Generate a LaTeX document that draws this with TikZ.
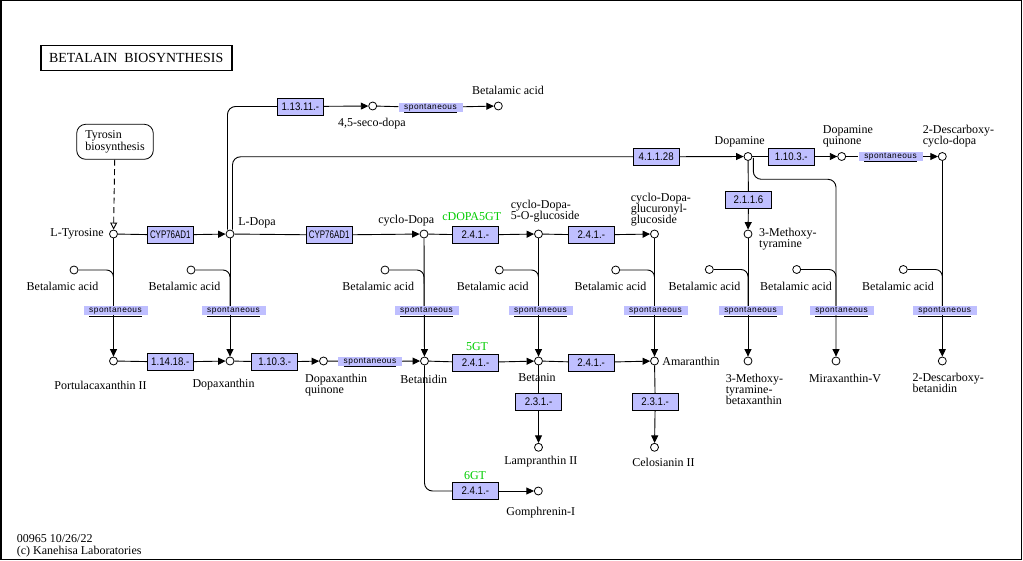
\documentclass[tikz,border=0pt]{standalone}
\usepackage{fontspec}
\setmainfont{Liberation Serif}
\newfontfamily\enzfont[FakeStretch=0.88]{Liberation Sans}
\newfontfamily\spfont[LetterSpace=6]{Liberation Sans}
\usetikzlibrary{arrows.meta,calc}
\pgfdeclarelayer{bg}
\pgfsetlayers{bg,main}
\definecolor{enzc}{RGB}{191,191,255}
\definecolor{grn}{RGB}{0,204,0}
\tikzset{
  cpd/.style={circle,draw,fill=white,inner sep=0pt,minimum size=8pt,line width=0.8pt},
  enz/.style={rectangle,draw,fill=enzc,minimum width=46pt,minimum height=17pt,inner sep=0pt,line width=0.8pt,font=\enzfont\fontsize{11}{11}\selectfont},
  spon/.style={rectangle,fill=enzc,minimum width=64pt,minimum height=9pt,inner sep=0pt,text height=5.9pt,text depth=1.9pt,font=\spfont\fontsize{8.3}{8.3}\selectfont},
  lbl/.style={inner sep=0pt,font=\fontsize{12}{11}\selectfont},
  glbl/.style={lbl,text=grn},
  ln/.style={line width=0.9pt},
  arr/.style={ln,-{Triangle[length=7.5pt,width=7pt]}},
}
\newcommand{\sptext}{\underline{spontaneous}}
\begin{document}
\begin{tikzpicture}[x=1pt,y=-1pt]
\useasboundingbox (0,0) rectangle (1023,561);
\draw[line width=1.5pt] (0.75,0.75) rectangle (1021.5,559.25);

% title
\node[draw,line width=1.6pt,minimum width=191pt,minimum height=25pt,inner sep=0pt,font=\fontsize{13.9}{14}\selectfont] (title) at (136.2,58.2) {BETALAIN\ \ BIOSYNTHESIS};

% map node
\node[draw,rounded corners=9pt,minimum width=76.6pt,minimum height=35pt,inner sep=0pt,align=left,line width=0.8pt,font=\fontsize{12}{10.7}\selectfont] (tyrmap) at (115,141.8) {Tyrosin\\biosynthesis};

% compounds
\node[cpd] (tyr) at (113.5,234) {};
\node[cpd] (dopa) at (230,234) {};
\node[cpd] (cdopa) at (424,234) {};
\node[cpd] (cdg) at (538.5,234) {};
\node[cpd] (cdgg) at (654.5,234) {};
\node[cpd] (dopm) at (748,156.5) {};
\node[cpd] (dopq) at (841.7,156.5) {};
\node[cpd] (desc) at (942.3,156.5) {};
\node[cpd] (seco) at (372.7,106) {};
\node[cpd] (bet0) at (498.3,106) {};
\node[cpd] (mtyr) at (748,234) {};
\node[cpd] (b1) at (74,270) {};
\node[cpd] (b2) at (191,270) {};
\node[cpd] (b3) at (385,270) {};
\node[cpd] (b4) at (499.3,270) {};
\node[cpd] (b5) at (615.7,270) {};
\node[cpd] (b6) at (709.3,269.5) {};
\node[cpd] (b7) at (796.7,269.5) {};
\node[cpd] (b8) at (903.3,269.5) {};
\node[cpd] (port) at (113.5,361) {};
\node[cpd] (dpx) at (230,361) {};
\node[cpd] (dpxq) at (323.5,361) {};
\node[cpd] (btd) at (424.5,361) {};
\node[cpd] (btn) at (538.5,361) {};
\node[cpd] (ama) at (654.5,361) {};
\node[cpd] (mtb) at (748,361) {};
\node[cpd] (mira) at (836,361) {};
\node[cpd] (dbtd) at (942.3,361) {};
\node[cpd] (lamp) at (538.5,447.3) {};
\node[cpd] (celo) at (654.5,447.3) {};
\node[cpd] (gomp) at (538.3,491) {};

% enzymes
\node[enz] (e11311) at (300.3,106.5) {1.13.11.-};
\node[enz] (e41128) at (656.2,156.8) {4.1.1.28};
\node[enz] (e1103a) at (791.3,156.5) {1.10.3.-};
\node[enz] (e2116) at (748.5,199.7) {2.1.1.6};
\node[enz] (cyp1) at (170.3,235) {\scalebox{0.82}[1]{CYP76AD1}};
\node[enz] (cyp2) at (329.2,235) {\scalebox{0.82}[1]{CYP76AD1}};
\node[enz] (e241a) at (475.3,235) {2.4.1.-};
\node[enz] (e241b) at (591.3,235) {2.4.1.-};
\node[enz] (e11418) at (170.3,362) {1.14.18.-};
\node[enz] (e1103b) at (274.7,362) {1.10.3.-};
\node[enz] (e241c) at (475.5,362.5) {2.4.1.-};
\node[enz] (e241d) at (591.2,362.5) {2.4.1.-};
\node[enz] (e231a) at (538.5,401.7) {2.3.1.-};
\node[enz] (e231b) at (655.2,401.7) {2.3.1.-};
\node[enz] (e241e) at (475.3,491) {2.4.1.-};

% spontaneous
\node[spon] (s0) at (430.5,107.5) {\sptext};
\node[spon] (s1) at (890.5,156.5) {\sptext};
\node[spon] (s2) at (370,361.5) {\sptext};
\node[spon] (sv1) at (115.5,311) {\sptext};
\node[spon] (sv2) at (233.5,311) {\sptext};
\node[spon] (sv3) at (426.5,311) {\sptext};
\node[spon] (sv4) at (540.5,311) {\sptext};
\node[spon] (sv5) at (655.5,311) {\sptext};
\node[spon] (sv6) at (750.5,311) {\sptext};
\node[spon] (sv7) at (841.5,311) {\sptext};
\node[spon] (sv8) at (944.7,311) {\sptext};

% connectors
\begin{pgfonlayer}{bg}
\draw[ln,dashed,dash pattern=on 6pt off 3.5pt,-{Triangle[open,length=7pt,width=7pt]}] (tyrmap) -- (tyr);
\draw[ln] (tyr) -- (cyp1); \draw[arr] (cyp1) -- (dopa);
\draw[ln] (dopa) -- (cyp2); \draw[arr] (cyp2) -- (cdopa);
\draw[ln] (cdopa) -- (e241a); \draw[arr] (e241a) -- (cdg);
\draw[ln] (cdg) -- (e241b); \draw[arr] (e241b) -- (cdgg);
\draw[ln,rounded corners=8pt] ([xshift=-2.5pt]dopa.north) |- (e11311.west);
\draw[arr] (e11311) -- (seco);
\draw[ln] (seco) -- (s0); \draw[arr] (s0) -- (bet0);
\draw[ln,rounded corners=8pt] ([xshift=2.5pt]dopa.north) |- (e41128.west);
\draw[arr] (e41128) -- (dopm);
\draw[ln] (dopm) -- (e1103a); \draw[arr] (e1103a) -- (dopq);
\draw[ln] (dopq) -- (s1); \draw[arr] (s1) -- (desc);
\draw[ln] (dopm) -- (e2116); \draw[arr] (e2116) -- (mtyr);
\coordinate (mjoin) at (836,179.3);
\draw[arr,rounded corners=8pt] ([xshift=5.3pt,yshift=3pt]dopm.south) |- (mjoin) -- (mira);
\draw[arr] (tyr) -- (port);
\draw[arr] (dopa) -- (dpx);
\draw[arr] (cdopa) -- (btd);
\draw[arr] (cdg) -- (btn);
\draw[arr] (cdgg) -- (ama);
\draw[arr] (mtyr) -- (mtb);
\draw[arr] (desc) -- (dbtd);
\draw[ln,rounded corners=7pt] (b1.east) -| (tyr |- sv1.north);
\draw[ln,rounded corners=7pt] (b2.east) -| (dopa |- sv2.north);
\draw[ln,rounded corners=7pt] (b3.east) -| (cdopa |- sv3.north);
\draw[ln,rounded corners=7pt] (b4.east) -| (cdg |- sv4.north);
\draw[ln,rounded corners=7pt] (b5.east) -| (cdgg |- sv5.north);
\draw[ln,rounded corners=7pt] (b6.east) -| (mtyr |- sv6.north);
\draw[ln,rounded corners=7pt] (b7.east) -| (mira |- sv7.north);
\draw[ln,rounded corners=7pt] (b8.east) -| (desc |- sv8.north);
\draw[ln] (port) -- (e11418); \draw[arr] (e11418) -- (dpx);
\draw[ln] (dpx) -- (e1103b); \draw[arr] (e1103b) -- (dpxq);
\draw[ln] (dpxq) -- (s2); \draw[arr] (s2) -- (btd);
\draw[ln] (btd) -- (e241c); \draw[arr] (e241c) -- (btn);
\draw[ln] (btn) -- (e241d); \draw[arr] (e241d) -- (ama);
\draw[ln] (btn) -- (e231a); \draw[arr] (e231a) -- (lamp);
\draw[ln] (ama) -- (e231b); \draw[arr] (e231b) -- (celo);
\draw[ln,rounded corners=8pt] (btd) |- (e241e.west);
\draw[arr] (e241e) -- (gomp);
\end{pgfonlayer}

% labels
\node[lbl] (ltyr) at (77,234) {L-Tyrosine};
\node[lbl] (ldopa) at (257,223.3) {L-Dopa};
\node[lbl] (lcdopa) at (406.3,220.7) {cyclo-Dopa};
\node[lbl,anchor=west,align=left] (lcdg) at (510.7,211.3) {cyclo-Dopa-\\5-O-glucoside};
\node[lbl,anchor=west,align=left] (lcdgg) at (630.7,210) {cyclo-Dopa-\\glucuronyl-\\glucoside};
\node[lbl] (ldopm) at (739.7,141.7) {Dopamine};
\node[lbl,anchor=west,align=left] (ldopq) at (822.7,136.2) {Dopamine\\quinone};
\node[lbl,anchor=west,align=left] (ldesc) at (922.7,136.2) {2-Descarboxy-\\cyclo-dopa};
\node[lbl] (lseco) at (372,123.3) {4,5-seco-dopa};
\node[lbl] (lbet0) at (508,90.7) {Betalamic acid};
\node[lbl,anchor=west,align=left] (lmtyr) at (759,239.5) {3-Methoxy-\\tyramine};
\node[lbl] (lb1) at (62.5,286) {Betalamic acid};
\node[lbl] (lb2) at (184.5,286) {Betalamic acid};
\node[lbl] (lb3) at (378.3,286) {Betalamic acid};
\node[lbl] (lb4) at (492.8,286) {Betalamic acid};
\node[lbl] (lb5) at (610.5,286) {Betalamic acid};
\node[lbl] (lb6) at (704.5,286) {Betalamic acid};
\node[lbl] (lb7) at (796,286) {Betalamic acid};
\node[lbl] (lb8) at (898,286) {Betalamic acid};
\node[lbl] (lport) at (100.5,385) {Portulacaxanthin II};
\node[lbl] (ldpx) at (223.5,385) {Dopaxanthin};
\node[lbl,anchor=west,align=left] (ldpxq) at (305,385) {Dopaxanthin\\quinone};
\node[lbl] (lbtd) at (423.8,379.3) {Betanidin};
\node[lbl] (lbtn) at (537,377.3) {Betanin};
\node[lbl] (lama) at (691,361.7) {Amaranthin};
\node[lbl,anchor=west,align=left] (lmtb) at (725.7,389.2) {3-Methoxy-\\tyramine-\\betaxanthin};
\node[lbl] (lmira) at (845,378.3) {Miraxanthin-V};
\node[lbl,anchor=west,align=left] (ldbtd) at (912.3,382.8) {2-Descarboxy-\\betanidin};
\node[lbl] (llamp) at (540.8,461.7) {Lampranthin II};
\node[lbl] (lcelo) at (663.5,462) {Celosianin II};
\node[lbl] (lgomp) at (540.8,512.3) {Gomphrenin-I};
\node[glbl] (g1) at (471.7,216.7) {cDOPA5GT};
\node[glbl] (g2) at (477,346.7) {5GT};
\node[glbl] (g3) at (475,475.7) {6GT};

% footer
\node[lbl,anchor=west] (f1) at (16.7,539) {00965 10/26/22};
\node[lbl,anchor=west] (f2) at (16.7,551.2) {(c) Kanehisa Laboratories};
\end{tikzpicture}
\end{document}
